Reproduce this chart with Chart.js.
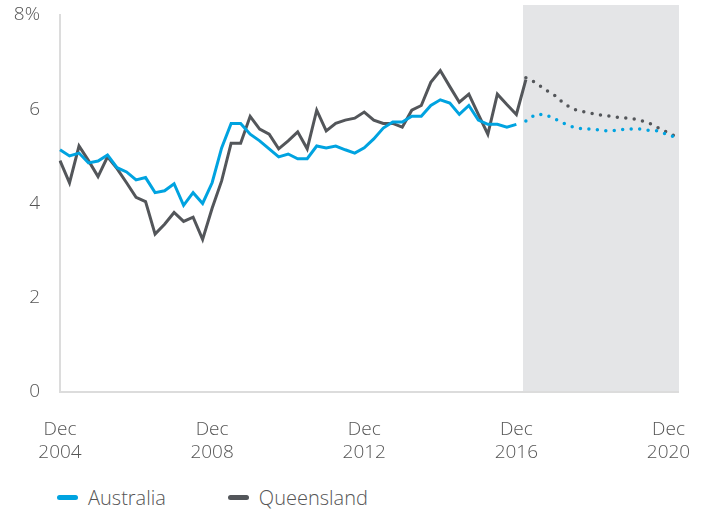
<!DOCTYPE html>
<html>
<head>
<meta charset="utf-8">
<script src="https://cdn.jsdelivr.net/npm/chart.js@4.4.0/dist/chart.umd.min.js"></script>
<style>
    html, body { margin: 0; padding: 0; background: #fff; }
    .wrap { position: relative; width: 705px; height: 510px; }
    #chart { position: absolute; left: 0; top: 0; }
    .legend {
        position: absolute;
        left: 57px;
        top: 484px;
        font-family: "Open Sans", sans-serif;
        font-weight: 300;
        font-size: 20px;
        color: #555;
        display: flex;
        align-items: center;
    }
    .legend .item { display: flex; align-items: center; margin-right: 62px; }
    .legend .swatch { width: 21px; height: 5px; border-radius: 3px; margin-right: 10px; }
</style>
</head>
<body>
<div class="wrap">
    <canvas id="chart" width="705" height="470"></canvas>
    <div class="legend" id="legend"></div>
</div>
<script>
// Quarterly series, Dec 2004 onwards (%)
const australia = [
    5.14, 5.01, 5.07, 4.86, 4.90, 5.03, 4.76, 4.67, 4.50, 4.55,
    4.23, 4.27, 4.42, 3.96, 4.23, 4.00, 4.44, 5.18, 5.70, 5.70,
    5.47, 5.33, 5.16, 4.99, 5.05, 4.95, 4.95, 5.22, 5.18, 5.22,
    5.14, 5.07, 5.18, 5.37, 5.60, 5.73, 5.73, 5.85, 5.85, 6.08,
    6.20, 6.13, 5.89, 6.08, 5.77, 5.68, 5.68, 5.62, 5.68
];
const queensland = [
    4.91, 4.44, 5.22, 4.91, 4.57, 4.99, 4.74, 4.44, 4.13, 4.04,
    3.35, 3.56, 3.81, 3.62, 3.71, 3.24, 3.90, 4.48, 5.28, 5.28,
    5.85, 5.58, 5.47, 5.16, 5.33, 5.52, 5.16, 5.98, 5.54, 5.70,
    5.77, 5.81, 5.94, 5.77, 5.70, 5.70, 5.62, 5.98, 6.08, 6.57,
    6.82, 6.48, 6.15, 6.32, 5.89, 5.47, 6.32, 6.10, 5.89, 6.63
];
// Forecasts, Mar 2017 to Mar 2021
const australiaForecast = [
    5.75, 5.89, 5.89, 5.80, 5.70, 5.62, 5.58, 5.58, 5.55, 5.54,
    5.57, 5.58, 5.58, 5.55, 5.54, 5.45, 5.39
];
const queenslandForecast = [
    6.67, 6.57, 6.42, 6.30, 6.12, 6.00, 5.95, 5.91, 5.87, 5.85,
    5.82, 5.81, 5.77, 5.70, 5.60, 5.50, 5.40
];
const forecastStart = 49;
const xTickYears = ['2004', '2008', '2012', '2016', '2020'];
const yTicks = [0, 2, 4, 6, 8];

const monthNames = ['Dec', 'Mar', 'Jun', 'Sep'];
const quarters = [];
for (let i = 0; i < forecastStart + australiaForecast.length; i++) {
    quarters.push(monthNames[i % 4] + ' ' + (2004 + Math.floor((i + 3) / 4)));
}

const BLUE = '#00a3e0';
const GREY = '#53565a';
const TEXT = '#555';

function padForecast(values) {
    return new Array(forecastStart).fill(null).concat(values);
}

// Grey box behind the forecast period
const forecastShade = {
    id: 'forecastShade',
    beforeDatasetsDraw(chart) {
        const { ctx, chartArea, scales } = chart;
        const left = scales.x.getPixelForValue(forecastStart - 0.3);
        ctx.save();
        ctx.fillStyle = '#e4e5e7';
        ctx.fillRect(left, chartArea.top - 10, chartArea.right + 1 - left, chartArea.bottom - 1 - (chartArea.top - 10));
        ctx.restore();
    }
};

// let layout.padding alone decide the chart area edges
function noLabelOverhang(scale) {
    scale.paddingTop = 0;
    scale.paddingBottom = 0;
    scale.paddingLeft = 0;
    scale.paddingRight = 0;
}

const fontSpec = { family: '"Open Sans", sans-serif', size: 19, weight: '300' };

new Chart(document.getElementById('chart'), {
    type: 'line',
    data: {
        labels: quarters,
        datasets: [
            {
                label: 'Australia',
                data: australia,
                borderColor: BLUE,
                borderWidth: 3
            },
            {
                label: 'Queensland',
                data: queensland,
                borderColor: GREY,
                borderWidth: 3
            },
            {
                label: 'Australia forecast',
                data: padForecast(australiaForecast),
                borderColor: BLUE,
                borderWidth: 3.5,
                borderDash: [0, 8.5],
                borderCapStyle: 'round'
            },
            {
                label: 'Queensland forecast',
                data: padForecast(queenslandForecast),
                borderColor: GREY,
                borderWidth: 3.5,
                borderDash: [0, 8.5],
                borderCapStyle: 'round'
            }
        ]
    },
    options: {
        responsive: false,
        animation: false,
        spanGaps: false,
        elements: {
            point: { radius: 0, hoverRadius: 0 },
            line: { tension: 0, borderJoinStyle: 'miter' }
        },
        layout: {
            autoPadding: false,
            padding: { left: 12, right: 27, top: 15, bottom: 6 }
        },
        plugins: {
            legend: { display: false },
            tooltip: { enabled: false }
        },
        scales: {
            x: {
                type: 'category',
                offset: false,
                grid: { display: false, drawTicks: false },
                border: { display: true, color: '#dcdcdc', width: 2 },
                afterFit: function(scale) {
                    scale.height = 72;
                    noLabelOverhang(scale);
                },
                ticks: {
                    autoSkip: false,
                    maxRotation: 0,
                    minRotation: 0,
                    padding: 26,
                    color: TEXT,
                    font: fontSpec,
                    callback: function(value, index) {
                        if (index % 16 !== 0) return null;
                        return ['Dec', xTickYears[index / 16]];
                    }
                }
            },
            y: {
                min: yTicks[0],
                max: yTicks[yTicks.length - 1],
                afterBuildTicks: function(scale) {
                    scale.ticks = yTicks.map(v => ({ value: v }));
                },
                afterFit: function(scale) {
                    scale.width = 48;
                    noLabelOverhang(scale);
                },
                grid: { display: false, drawTicks: false },
                border: { display: true, color: '#dcdcdc', width: 2 },
                ticks: {
                    padding: 20,
                    color: TEXT,
                    font: fontSpec,
                    callback: function(value) {
                        return value === 8 ? '8%' : value;
                    }
                }
            }
        }
    },
    plugins: [forecastShade]
});

// Legend
const legendItems = [['Australia', BLUE], ['Queensland', GREY]];
document.getElementById('legend').innerHTML = legendItems.map(([name, color]) =>
    `<span class="item"><span class="swatch" style="background:${color}"></span>${name}</span>`
).join('');
</script>
</body>
</html>
